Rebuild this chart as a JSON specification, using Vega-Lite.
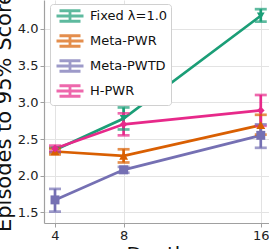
{
  "$schema": "https://vega.github.io/schema/vega-lite/v6.json",
  "width": 225,
  "height": 223,
  "autosize": "none",
  "padding": {"left": 44, "top": 0, "right": 0, "bottom": 26},
  "background": "white",
  "config": {
    "font": "DejaVu Sans",
    "view": {"stroke": null},
    "axis": {
      "gridColor": "#e3e3e3",
      "gridWidth": 1,
      "domainColor": "#a0a0a0",
      "domainWidth": 1.2,
      "tickColor": "#a0a0a0",
      "tickSize": 4,
      "labelFontSize": 13,
      "labelColor": "#222222",
      "labelPadding": 2,
      "titleFontSize": 20,
      "titleFontWeight": "normal",
      "titleColor": "#111111"
    }
  },
  "data": {
    "values": [
      {"method": "Fixed λ=1.0", "depth": 4, "mean": 2.35, "lo": 2.32, "hi": 2.38},
      {"method": "Fixed λ=1.0", "depth": 8, "mean": 2.78, "lo": 2.63, "hi": 2.93},
      {"method": "Fixed λ=1.0", "depth": 16, "mean": 4.18, "lo": 4.1, "hi": 4.27},
      {"method": "Meta-PWR", "depth": 4, "mean": 2.33, "lo": 2.29, "hi": 2.37},
      {"method": "Meta-PWR", "depth": 8, "mean": 2.27, "lo": 2.18, "hi": 2.36},
      {"method": "Meta-PWR", "depth": 16, "mean": 2.69, "lo": 2.56, "hi": 2.83},
      {"method": "Meta-PWTD", "depth": 4, "mean": 1.67, "lo": 1.51, "hi": 1.82},
      {"method": "Meta-PWTD", "depth": 8, "mean": 2.08, "lo": 2.04, "hi": 2.12},
      {"method": "Meta-PWTD", "depth": 16, "mean": 2.55, "lo": 2.38, "hi": 2.7},
      {"method": "H-PWR", "depth": 4, "mean": 2.37, "lo": 2.33, "hi": 2.41},
      {"method": "H-PWR", "depth": 8, "mean": 2.7, "lo": 2.55, "hi": 2.85},
      {"method": "H-PWR", "depth": 16, "mean": 2.89, "lo": 2.68, "hi": 3.1}
    ]
  },
  "encoding": {
    "x": {
      "field": "depth",
      "type": "quantitative",
      "scale": {"domain": [3.358, 16.48], "nice": false, "zero": false},
      "axis": {"values": [4, 8, 16], "title": "Depth", "titlePadding": 2}
    },
    "color": {
      "field": "method",
      "type": "nominal",
      "scale": {
        "domain": ["Fixed λ=1.0", "Meta-PWR", "Meta-PWTD", "H-PWR"],
        "range": ["#1b9e77", "#d95f02", "#7570b3", "#e7298a"]
      },
      "legend": {
        "orient": "none",
        "legendX": 6,
        "legendY": 4,
        "title": null,
        "fillColor": "white",
        "strokeColor": "#d0d0d0",
        "cornerRadius": 3,
        "padding": 3,
        "labelFontSize": 13,
        "labelColor": "#111111",
        "symbolType": "M-1.8,0H1.8M0,-0.7V0.7M-1.4,-0.7H1.4M-1.4,0.7H1.4",
        "symbolSize": 225,
        "symbolStrokeWidth": 2.8,
        "symbolOffset": 8,
        "labelOffset": 11,
        "rowPadding": 3
      }
    }
  },
  "layer": [
    {
      "mark": {"type": "line", "strokeWidth": 2.7},
      "encoding": {
        "y": {
          "field": "mean",
          "type": "quantitative",
          "scale": {"domain": [1.355, 4.395], "nice": false, "zero": false},
          "axis": {"values": [1.5, 2.0, 2.5, 3.0, 3.5, 4.0], "format": ".1f", "title": "Episodes to 95% Score", "titlePadding": 3, "titleFontSize": 21}
        }
      }
    },
    {
      "mark": {"type": "rule", "strokeWidth": 2.7},
      "encoding": {
        "y": {"field": "lo", "type": "quantitative"},
        "y2": {"field": "hi"}
      }
    },
    {
      "mark": {"type": "tick", "orient": "horizontal", "size": 12, "thickness": 2.7},
      "encoding": {"y": {"field": "lo", "type": "quantitative"}}
    },
    {
      "mark": {"type": "tick", "orient": "horizontal", "size": 12, "thickness": 2.7},
      "encoding": {"y": {"field": "hi", "type": "quantitative"}}
    },
    {
      "transform": [{"filter": "datum.method === 'Fixed λ=1.0'"}],
      "mark": {"type": "point", "filled": true, "size": 60, "opacity": 1, "shape": "triangle-down"},
      "encoding": {"y": {"field": "mean", "type": "quantitative"}}
    },
    {
      "transform": [{"filter": "datum.method === 'Meta-PWR'"}],
      "mark": {"type": "point", "filled": true, "size": 80, "opacity": 1, "shape": "triangle-up"},
      "encoding": {"y": {"field": "mean", "type": "quantitative"}}
    },
    {
      "transform": [{"filter": "datum.method === 'Meta-PWTD'"}],
      "mark": {"type": "point", "filled": true, "size": 80, "opacity": 1, "shape": "square"},
      "encoding": {"y": {"field": "mean", "type": "quantitative"}}
    },
    {
      "transform": [{"filter": "datum.method === 'H-PWR'"}],
      "mark": {"type": "point", "filled": true, "size": 60, "opacity": 1, "shape": "diamond"},
      "encoding": {"y": {"field": "mean", "type": "quantitative"}}
    }
  ]
}
